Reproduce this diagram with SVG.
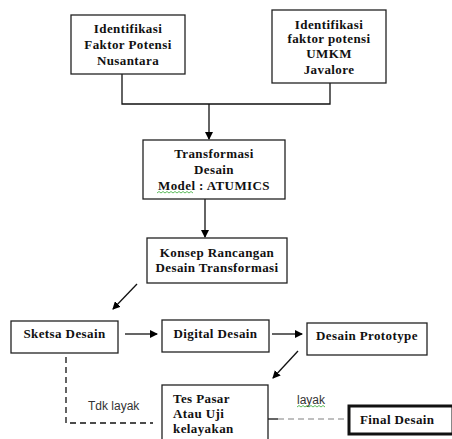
<svg xmlns="http://www.w3.org/2000/svg" width="452" height="439" viewBox="0 0 452 439">
<defs>
<marker id="ah" markerWidth="8" markerHeight="8" refX="7" refY="4" orient="auto" markerUnits="userSpaceOnUse">
<path d="M0,0 L8,4 L0,8 Z" fill="#000"/>
</marker>
<style>
.box{fill:#fff;stroke:#222;stroke-width:1.3}
.t{font-family:"Liberation Serif",serif;font-weight:bold;font-size:13px;letter-spacing:0.4px;fill:#111;text-anchor:middle}
.tl{font-family:"Liberation Serif",serif;font-weight:bold;font-size:13px;letter-spacing:0.4px;fill:#111}
.c{fill:none;stroke:#111;stroke-width:1.3}
.lbl{font-family:"Liberation Sans",Arial,sans-serif;font-size:12px;fill:#333}
.sq{fill:none;stroke:#3a3;stroke-width:0.8}
</style>
</defs>
<rect width="452" height="439" fill="#fff"/>
<g id="connectors">
<path class="c" d="M122,74 V104 H330 V83"/>
<path class="c" d="M209,104 V139" marker-end="url(#ah)"/>
<path class="c" d="M205,199 V237" marker-end="url(#ah)"/>
<path class="c" d="M137,284 L113,309" marker-end="url(#ah)"/>
<path class="c" d="M125,334 H157" marker-end="url(#ah)"/>
<path class="c" d="M272,334 H302" marker-end="url(#ah)"/>
<path class="c" d="M298,351 L273,378" marker-end="url(#ah)"/>
<path class="c" d="M66,357 V423 H153" stroke-dasharray="6,4"/>
<path class="c" d="M268,419 H278"/>
<path d="M278,419 H348" fill="none" stroke="#aaa" stroke-width="1.3" stroke-dasharray="6,4"/>
<text class="lbl" x="88" y="410">Tdk layak</text>
<text class="lbl" x="297" y="404">layak</text>
<path class="sq" d="M297,407 l2,-1.5 l2,1.5 l2,-1.5 l2,1.5 l2,-1.5 l2,1.5 l2,-1.5 l2,1.5 l2,-1.5 l2,1.5 l2,-1.5 l2,1.5 l2,-1.5 l2,1.5"/>
</g>
<g id="n1">
<rect class="box" x="71" y="15" width="114" height="59"/>
<text class="t" x="128" y="33">Identifikasi</text>
<text class="t" x="128" y="49">Faktor Potensi</text>
<text class="t" x="128" y="65">Nusantara</text>
</g>
<g id="n2">
<rect class="box" x="272" y="10" width="114" height="73"/>
<text class="t" x="329" y="29">Identifikasi</text>
<text class="t" x="329" y="43">faktor potensi</text>
<text class="t" x="329" y="58">UMKM</text>
<text class="t" x="329" y="74">Javalore</text>
</g>
<g id="n3">
<rect class="box" x="143" y="140" width="142" height="59"/>
<text class="t" x="214" y="158">Transformasi</text>
<text class="t" x="214" y="174">Desain</text>
<text class="t" x="214" y="190">Model : ATUMICS</text>
<path class="sq" d="M157,193 l2,-1.5 l2,1.5 l2,-1.5 l2,1.5 l2,-1.5 l2,1.5 l2,-1.5 l2,1.5 l2,-1.5 l2,1.5 l2,-1.5 l2,1.5 l2,-1.5 l2,1.5 l2,-1.5 l2,1.5 l2,-1.5 l2,1.5"/>
</g>
<g id="n4">
<rect class="box" x="147" y="238" width="140" height="45"/>
<text class="t" x="217" y="257">Konsep Rancangan</text>
<text class="t" x="217" y="272">Desain Transformasi</text>
</g>
<g id="n5">
<rect class="box" x="11" y="321" width="107" height="32"/>
<text class="t" x="64.5" y="338">Sketsa Desain</text>
</g>
<g id="n6">
<rect class="box" x="162" y="320" width="107" height="32"/>
<text class="t" x="215.5" y="338">Digital Desain</text>
</g>
<g id="n7">
<rect class="box" x="307" y="323" width="120" height="32"/>
<text class="t" x="367" y="340">Desain Prototype</text>
</g>
<g id="n8">
<rect class="box" x="162" y="385" width="106" height="60"/>
<text class="tl" x="173" y="403">Tes Pasar</text>
<text class="tl" x="173" y="418">Atau Uji</text>
<text class="tl" x="173" y="433">kelayakan</text>
</g>
<g id="n9">
<rect x="349" y="406" width="104" height="28" fill="#fff" stroke="#111" stroke-width="3"/>
<text class="tl" x="360" y="424">Final Desain</text>
</g>
</svg>
